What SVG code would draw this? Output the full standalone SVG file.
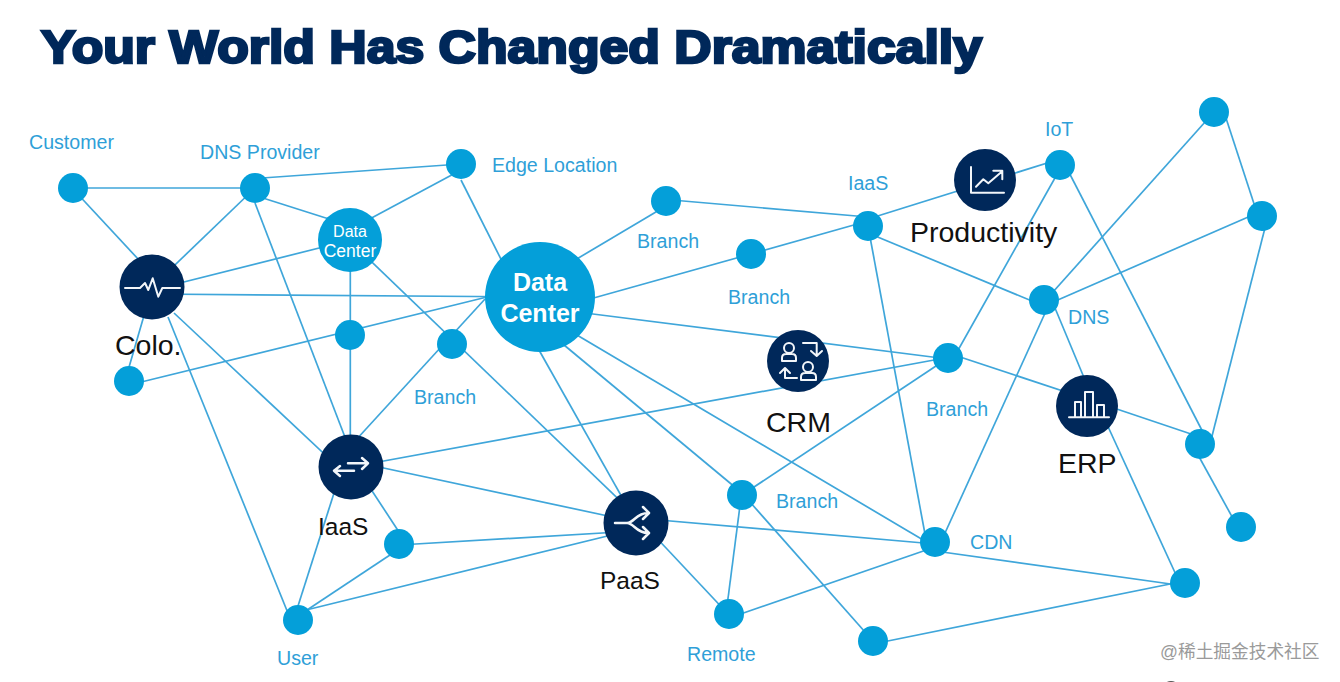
<svg xmlns="http://www.w3.org/2000/svg" width="1340" height="682" viewBox="0 0 1340 682">
<style>
.t{font-family:"Liberation Sans",Arial,sans-serif}
.e line{stroke:#3fa6da;stroke-width:1.7}
.d{fill:#049fd9}
.k{fill:#00285a}
.l{font-size:19.6px;fill:#2f9fd8}
.b{font-size:28.5px;fill:#111}
.c{font-size:24.5px;fill:#111}
.w{fill:#fff;text-anchor:middle}
.i{fill:none;stroke:#f2f6fa;stroke-width:2;stroke-linecap:round;stroke-linejoin:round}
</style>
<rect width="1340" height="682" fill="#fff"/>
<text id="title" class="t" x="41" y="63" font-size="46" font-weight="700" fill="#00285a" stroke="#00285a" stroke-width="2.6" textLength="941" lengthAdjust="spacingAndGlyphs">Your World Has Changed Dramatically</text>
<g id="connectors" class="e">
<line x1="73" y1="188" x2="255" y2="188"/><line x1="73" y1="189" x2="152" y2="274"/><line x1="255" y1="188" x2="152" y2="287"/><line x1="255" y1="178.500" x2="461" y2="164"/><line x1="255" y1="195.500" x2="351" y2="226"/><line x1="255" y1="203" x2="348" y2="445"/>
<line x1="351" y1="229" x2="461" y2="170"/><line x1="461" y1="180" x2="510" y2="277"/><line x1="351" y1="240" x2="152" y2="290"/><line x1="350.300" y1="240" x2="350.300" y2="468"/><line x1="351" y1="242" x2="636" y2="516"/>
<line x1="152" y1="294" x2="540" y2="297"/><line x1="152" y1="288" x2="125" y2="381"/><line x1="174" y1="313" x2="351" y2="479"/><line x1="168" y1="317" x2="292" y2="623"/>
<line x1="129" y1="385" x2="487" y2="297"/><line x1="355" y1="441" x2="485" y2="299"/>
<line x1="570" y1="263" x2="666" y2="206"/><line x1="666" y1="199.500" x2="868" y2="217"/><line x1="590" y1="299" x2="751" y2="254"/><line x1="751" y1="254" x2="868" y2="221"/><line x1="868" y1="219" x2="1060" y2="159"/>
<line x1="868" y1="233" x2="1044" y2="306"/><line x1="868" y1="226" x2="927" y2="545"/><line x1="585" y1="313" x2="948" y2="359"/><line x1="351" y1="467" x2="945" y2="358"/>
<line x1="535" y1="343" x2="636" y2="522"/><line x1="540" y1="325" x2="742" y2="493"/><line x1="560" y1="325" x2="935" y2="547"/>
<line x1="351" y1="461" x2="636" y2="522"/><line x1="357" y1="468" x2="399" y2="532"/><line x1="342" y1="468" x2="298" y2="606"/><line x1="399" y1="545" x2="636" y2="531"/><line x1="399" y1="549" x2="298" y2="616"/><line x1="298" y1="612" x2="636" y2="529"/>
<line x1="636" y1="518" x2="935" y2="544"/><line x1="636" y1="516" x2="729" y2="615"/><line x1="742" y1="495" x2="948" y2="358"/><line x1="742" y1="490" x2="726" y2="614"/><line x1="742" y1="493" x2="873" y2="641"/>
<line x1="729" y1="618" x2="935" y2="547"/><line x1="873" y1="644" x2="1185" y2="581"/><line x1="935" y1="551" x2="1185" y2="586"/><line x1="1051" y1="300" x2="935" y2="555"/>
<line x1="948" y1="368" x2="1060" y2="169"/><line x1="948" y1="353" x2="1087" y2="399"/><line x1="1050" y1="296" x2="1090" y2="392"/><line x1="1087" y1="399" x2="1200" y2="437"/><line x1="1099" y1="407" x2="1183" y2="590"/>
<line x1="1192" y1="444" x2="1241" y2="533"/><line x1="1060" y1="155" x2="1208" y2="442"/><line x1="1268" y1="216" x2="1210" y2="444"/><line x1="1044" y1="302" x2="1214" y2="112"/><line x1="1044" y1="306" x2="1262" y2="211"/><line x1="1224" y1="112" x2="1258" y2="216"/>
</g>
<g id="n-customer"><circle class="d" cx="73" cy="188" r="15"/><text class="t l" x="29" y="149">Customer</text></g>
<g id="n-dns-provider"><circle class="d" cx="255" cy="188" r="15"/><text class="t l" x="200" y="159">DNS Provider</text></g>
<g id="n-edge"><circle class="d" cx="461" cy="164" r="15"/><text class="t l" x="492" y="172">Edge Location</text></g>
<g id="n-dc-small"><circle class="d" cx="350" cy="240" r="32"/><text class="t w" x="350" y="237" font-size="16">Data</text><text class="t w" x="350" y="257" font-size="17.500">Center</text></g>
<g id="n-dc-big"><circle class="d" cx="540" cy="297" r="55"/><text class="t w" x="540" y="291" font-size="25" font-weight="700">Data</text><text class="t w" x="540" y="322" font-size="25" font-weight="700">Center</text></g>
<g id="n-colo"><circle class="k" cx="152" cy="287" r="32.500"/><path class="i" d="M125 288H140L145 283L148.300 290L152.700 278.300L158.300 296.700L162.300 288H180"/><text class="t b" x="115" y="355">Colo.</text></g>
<g id="n-d1"><circle class="d" cx="350" cy="335" r="15"/></g>
<g id="n-d2"><circle class="d" cx="129" cy="381" r="15"/></g>
<g id="n-d3"><circle class="d" cx="452" cy="344" r="15"/><text class="t l" x="414" y="404">Branch</text></g>
<g id="n-iaas-dark"><circle class="k" cx="351" cy="467" r="32.500"/><path class="i" style="stroke-width:2.500px" d="M348 463.300H368M362 458L368 463.300L362 469M354 470.700H334M340 466L334 470.700L340 476"/><text class="t c" x="318" y="535">IaaS</text></g>
<g id="n-d4"><circle class="d" cx="399" cy="544" r="15"/></g>
<g id="n-user"><circle class="d" cx="298" cy="620" r="15"/><text class="t l" x="277" y="665">User</text></g>
<g id="n-paas"><circle class="k" cx="636" cy="523" r="32.500"/><path class="i" style="stroke-width:2.500px" d="M615 523H627C634 523 636 513 648 513M627 523C634 523 636 533 648 533M643 507L649 513L643 519M643 527L649 533L643 539"/><text class="t c" x="600" y="589">PaaS</text></g>
<g id="n-remote"><circle class="d" cx="729" cy="614" r="15"/><text class="t l" x="687" y="661">Remote</text></g>
<g id="n-branch3"><circle class="d" cx="742" cy="495" r="15"/><text class="t l" x="776" y="508">Branch</text></g>
<g id="n-d5"><circle class="d" cx="873" cy="641" r="15"/></g>
<g id="n-cdn"><circle class="d" cx="935" cy="542" r="15"/><text class="t l" x="970" y="549">CDN</text></g>
<g id="n-d6"><circle class="d" cx="1185" cy="583" r="15"/></g>
<g id="n-d7"><circle class="d" cx="1241" cy="527" r="15"/></g>
<g id="n-d8"><circle class="d" cx="1200" cy="444" r="15"/></g>
<g id="n-erp"><circle class="k" cx="1087" cy="406" r="31"/><path class="i" d="M1069 417.300H1109M1075 417.300V402H1081V417.300M1085 417.300V392H1093V417.300M1097 417.300V405H1104V417.300"/><text class="t b" x="1058" y="473">ERP</text></g>
<g id="n-dns"><circle class="d" cx="1044" cy="300" r="15"/><text class="t l" x="1068" y="324">DNS</text></g>
<g id="n-crm"><circle class="k" cx="798" cy="361" r="31"/><path class="i" d="M794 348A5 5 0 1 1 784 348A5 5 0 1 1 794 348M782 361V358Q782 354 786 354H792Q796 354 796 358V361M782 361H796M803 343H816.700V355M811 351L816.700 356L822 351M813 367A5 5 0 1 1 803 367A5 5 0 1 1 813 367M801 380V377Q801 373 805 373H812Q816 373 816 377V380M797 378H785V369M780 373L785 368L790 373M801 380H816"/><text class="t b" x="766" y="432">CRM</text></g>
<g id="n-branch2"><circle class="d" cx="948" cy="358" r="15"/><text class="t l" x="926" y="416">Branch</text></g>
<g id="n-iaas"><circle class="d" cx="868" cy="226" r="15"/><text class="t l" x="848" y="190">IaaS</text></g>
<g id="n-prod"><circle class="k" cx="985" cy="180" r="31"/><path class="i" d="M971 167V192.700H1004M976 186.700L983.300 179.300L988.300 183.300L1001.700 171.700M993.300 170.700H1002.300V179.300"/><text class="t b" x="910" y="242">Productivity</text></g>
<g id="n-iot"><circle class="d" cx="1060" cy="165" r="15"/><text class="t l" x="1045" y="136">IoT</text></g>
<g id="n-d9"><circle class="d" cx="1214" cy="112" r="15"/></g>
<g id="n-d10"><circle class="d" cx="1262" cy="216" r="15"/></g>
<g id="n-branch0"><circle class="d" cx="666" cy="201" r="15"/><text class="t l" x="637" y="248">Branch</text></g>
<g id="n-branch1"><circle class="d" cx="751" cy="254" r="15"/><text class="t l" x="728" y="304">Branch</text></g>
<text id="watermark" x="1160" y="658" font-size="17.700" fill="#9a9a9a" font-family="'Liberation Sans','Noto Sans CJK SC',sans-serif">@稀土掘金技术社区</text>
<circle cx="1171" cy="690" r="9" fill="#555"/>
</svg>
